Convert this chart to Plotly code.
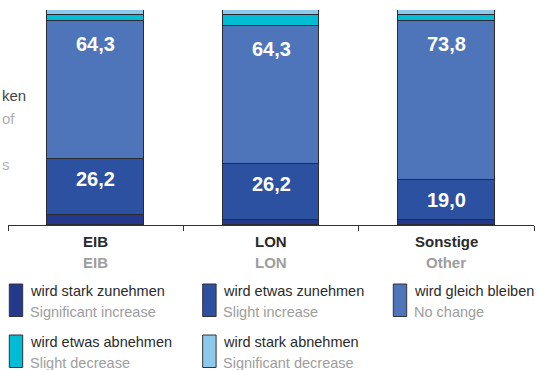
import plotly.graph_objects as go

# ---- data ----
categories_de = ["EIB", "LON", "Sonstige"]
categories_en = ["EIB", "LON", "Other"]

series_de = ["wird stark zunehmen", "wird etwas zunehmen", "wird gleich bleiben",
             "wird etwas abnehmen", "wird stark abnehmen"]
series_en = ["Significant increase", "Slight increase", "No change",
             "Slight decrease", "Significant decrease"]

strong_increase = [4.5, 2.2, 2.1]
slight_increase = [26.2, 26.2, 19.0]
no_change = [64.3, 64.3, 73.8]
slight_decrease = [2.5, 5.0, 2.6]
strong_decrease = [2.5, 2.3, 2.5]

values = [strong_increase, slight_increase, no_change, slight_decrease, strong_decrease]
colors = ["#25398c", "#2d51a1", "#4e75b9", "#00bcd5", "#8ec9ec"]
label_shift = [None, -20, -23, None, None]

# ---- geometry helpers (pixels -> paper) ----
W, H = 538, 370
L, R, T, B = 8, 4, 10, 145
PW, PH = W - L - R, H - T - B


def px(x):
    return (x - L) / PW


def py(y):
    return (H - B - y) / PH


FONT = "Liberation Sans, Arial, sans-serif"
DARK = "#2a2a2a"
GREY = "#9d9d9d"

xs = list(range(len(categories_de)))

fig = go.Figure()
for name, vals, col in zip(series_de, values, colors):
    fig.add_trace(go.Bar(
        x=xs, y=vals, name=name, width=0.553,
        marker=dict(color=col, line=dict(color="#2b2b33", width=1)),
        hoverinfo="skip", showlegend=False,
    ))

annotations = []
# value labels inside segments, near top of the segment
for k, vals in enumerate(values):
    if label_shift[k] is None:
        continue
    for i, v in enumerate(vals):
        top = sum(values[j][i] for j in range(k + 1))
        annotations.append(dict(
            x=xs[i], y=top, xref="x", yref="y", text=f"<b>{v:.1f}</b>".replace(".", ","),
            showarrow=False, yanchor="middle", yshift=label_shift[k],
            font=dict(family=FONT, size=20, color="white"),
        ))

# category labels
for i in xs:
    annotations.append(dict(
        x=xs[i], y=0, xref="x", yref="paper", text=f"<b>{categories_de[i]}</b>",
        showarrow=False, yanchor="middle", yshift=-16,
        font=dict(family=FONT, size=15, color=DARK),
    ))
    annotations.append(dict(
        x=xs[i], y=0, xref="x", yref="paper", text=f"<b>{categories_en[i]}</b>",
        showarrow=False, yanchor="middle", yshift=-37.5,
        font=dict(family=FONT, size=15, color=GREY),
    ))

# side text fragments at left edge
for txt, yc, col in [("ken", 95, "#444444"), ("of", 118, "#b0b0b0"), ("s", 164, "#b0b0b0")]:
    annotations.append(dict(
        x=px(1), y=py(yc), xref="paper", yref="paper", text=txt, showarrow=False,
        xanchor="left", yanchor="middle", borderpad=0,
        font=dict(family=FONT, size=15, color=col),
    ))

# custom legend
col_x = [9.3, 202.7, 393.3]
row_y = [284, 335]
shapes = []
for n in range(len(series_de)):
    c, r = n % 3, n // 3
    x0, y0 = col_x[c], row_y[r]
    shapes.append(dict(
        type="rect", xref="paper", yref="paper",
        x0=px(x0), x1=px(x0 + 13.4), y0=py(y0), y1=py(y0 + 32.5),
        fillcolor=colors[n], line=dict(color="#333333", width=1),
    ))
    annotations.append(dict(
        x=px(x0 + 18.5), y=py(y0 + 6.5), xref="paper", yref="paper", text=series_de[n],
        showarrow=False, xanchor="left", yanchor="middle",
        font=dict(family=FONT, size=14.5, color=DARK),
    ))
    annotations.append(dict(
        x=px(x0 + 18.5), y=py(y0 + 27.5), xref="paper", yref="paper", text=series_en[n],
        showarrow=False, xanchor="left", yanchor="middle",
        font=dict(family=FONT, size=14.5, color=GREY),
    ))

fig.update_layout(
    width=W, height=H,
    margin=dict(l=L, r=R, t=T, b=B, pad=0),
    barmode="stack", bargap=0,
    paper_bgcolor="white", plot_bgcolor="white",
    annotations=annotations, shapes=shapes,
    xaxis=dict(range=[-0.5, 2.5], showgrid=False, zeroline=False,
               showline=True, linecolor="#333333", linewidth=1,
               tickmode="array", tickvals=[-0.5, 0.5, 1.5, 2.5],
               ticks="outside", ticklen=5, tickcolor="#333333", tickwidth=1,
               showticklabels=False, fixedrange=True),
    yaxis=dict(range=[0, 100], visible=False, fixedrange=True),
)

fig.write_html("out.html")
